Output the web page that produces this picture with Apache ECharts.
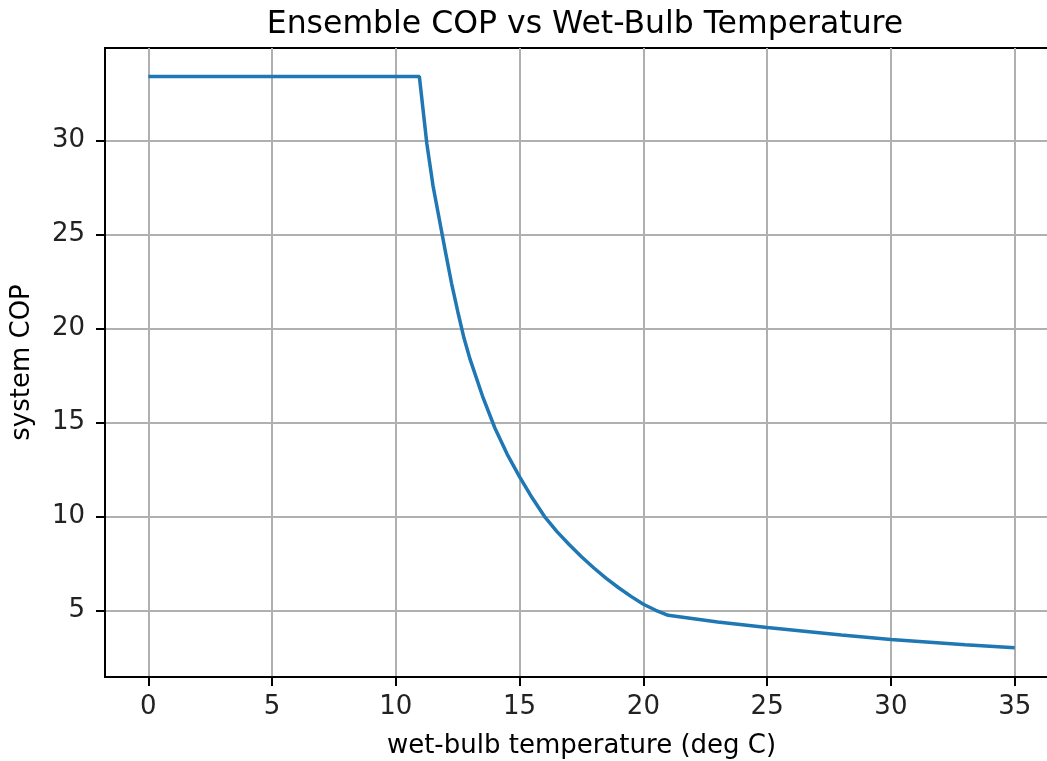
<!DOCTYPE html>
<html>
<head>
<meta charset="utf-8">
<script src="https://cdn.jsdelivr.net/npm/echarts@6/dist/echarts.min.js"></script>
<style>
  html, body { margin: 0; padding: 0; background: #fff; }
  #chart { width: 1047px; height: 761px; }
</style>
</head>
<body>
<div id="chart"></div>
<script>
// wet-bulb temperature (deg C) and system COP
var wetBulb = [0, 10.95, 11.25, 11.5, 11.75, 12, 12.25, 12.5, 12.75, 13, 13.5, 14, 14.5, 15, 15.5, 16, 16.5, 17, 17.5, 18, 18.5, 19, 19.5, 20, 20.5, 21, 23, 25, 28, 30, 33, 35];
var systemCop = [33.4, 33.4, 29.85, 27.6, 25.85, 24.1, 22.4, 20.9, 19.5, 18.35, 16.4, 14.7, 13.3, 12.1, 11.0, 10.0, 9.2, 8.5, 7.85, 7.25, 6.7, 6.2, 5.74, 5.32, 5.0, 4.73, 4.38, 4.08, 3.68, 3.45, 3.17, 3.0];
var xTicks = [0, 5, 10, 15, 20, 25, 30, 35];
var yTicks = [5, 10, 15, 20, 25, 30];

var points = wetBulb.map(function (t, i) { return [t, systemCop[i]]; });

var font = 'DejaVu Sans';
var fs = 26;
var chart = echarts.init(document.getElementById('chart'));
chart.setOption({
  animation: false,
  title: {
    text: 'Ensemble COP vs Wet-Bulb Temperature',
    left: 580,
    top: 4,
    textAlign: 'center',
    textStyle: { fontFamily: font, fontSize: 31.5, fontWeight: 'normal', color: '#000' }
  },
  grid: {
    left: 105, right: -11, top: 48, bottom: 84,
    outerBoundsMode: 'none',
    show: true, borderColor: '#000', borderWidth: 2
  },
  xAxis: {
    type: 'value',
    min: -1.75, max: 36.75,
    name: 'wet-bulb temperature (deg C)',
    nameLocation: 'middle',
    nameGap: 56,
    nameTextStyle: { fontFamily: font, fontSize: fs, color: '#000' },
    axisLine: { show: true, onZero: false, lineStyle: { color: '#000', width: 2 } },
    axisTick: { show: true, customValues: xTicks, inside: false, length: 9, lineStyle: { color: '#000', width: 2 } },
    axisLabel: { customValues: xTicks, margin: 17, fontFamily: font, fontSize: fs, color: '#222' },
    splitLine: { show: true, lineStyle: { color: '#b0b0b0', width: 2 } }
  },
  yAxis: {
    type: 'value',
    min: 1.45, max: 34.92,
    name: 'system COP',
    nameLocation: 'middle',
    nameGap: 70,
    nameTextStyle: { fontFamily: font, fontSize: fs, color: '#000' },
    axisLine: { show: true, onZero: false, lineStyle: { color: '#000', width: 2 } },
    axisTick: { show: true, customValues: yTicks, inside: false, length: 9, lineStyle: { color: '#000', width: 2 } },
    axisLabel: { customValues: yTicks, margin: 20, fontFamily: font, fontSize: fs, color: '#222' },
    splitLine: { show: true, lineStyle: { color: '#b0b0b0', width: 2 } }
  },
  series: [{
    type: 'line',
    data: points,
    showSymbol: false,
    smooth: false,
    lineStyle: { color: '#1f77b4', width: 3.5 },
    itemStyle: { color: '#1f77b4' }
  }]
});
</script>
</body>
</html>
